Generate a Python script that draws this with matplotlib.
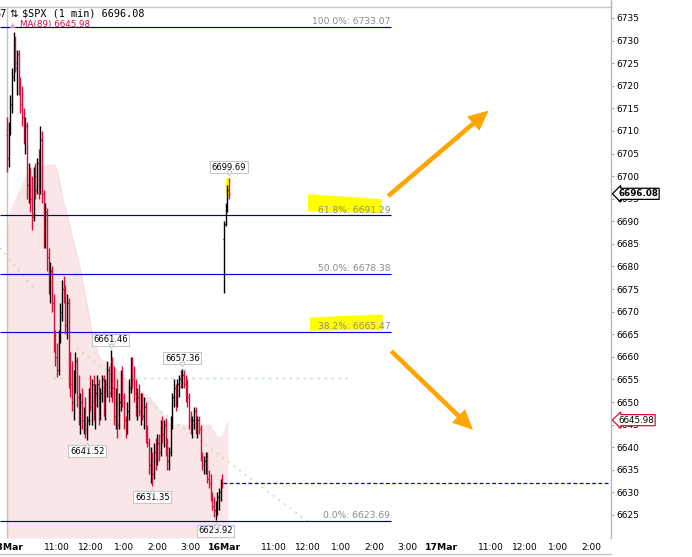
import matplotlib
matplotlib.use("Agg")
import matplotlib.pyplot as plt
import matplotlib.transforms as mtrans
from matplotlib.patches import FancyArrowPatch, Rectangle, Polygon
from matplotlib.lines import Line2D
import numpy as np

# ---------------- data ----------------
bar_interval = 3  # minutes per bar
day_minutes = 390
# 13Mar bars (index 0..129), then 16Mar bars
bar_opens = [
    6709, 6704, 6711, 6716, 6722, 6729, 6724, 6727, 6719, 6716,
    6713, 6709, 6711, 6698, 6701, 6695, 6691, 6700, 6697, 6703,
    6697, 6708, 6696, 6688, 6692, 6682, 6676, 6679, 6672, 6664,
    6660, 6657, 6665, 6670, 6675, 6673, 6667, 6672, 6656, 6654,
    6650, 6655, 6659, 6651, 6647, 6650, 6646, 6648, 6644, 6646,
    6651, 6649, 6654, 6648, 6652, 6654, 6647, 6652, 6655, 6649,
    6654, 6657, 6652, 6659, 6653, 6647, 6651, 6645, 6650, 6655,
    6651, 6646, 6645, 6648, 6653, 6659, 6655, 6652, 6649, 6651,
    6648, 6650, 6647, 6649, 6643, 6641, 6636, 6638, 6634, 6639,
    6637, 6641, 6639, 6645, 6643, 6645, 6640, 6637, 6639, 6646,
    6651, 6653, 6650, 6654, 6655, 6654, 6656, 6654, 6652, 6651,
    6646, 6645, 6646, 6648, 6644, 6646, 6644, 6638, 6636, 6637,
    6638, 6633, 6632, 6629, 6627, 6626, 6627, 6629, 6630, 6633,
    6686, 6689.5, 6693, 6697]
bar_highs = [
    6713, 6712, 6718, 6724, 6732, 6731, 6728, 6728, 6722, 6720,
    6715, 6713, 6712, 6703, 6702, 6700, 6702, 6703, 6704, 6706,
    6711, 6710, 6697, 6694, 6693, 6684, 6681, 6680, 6674, 6666,
    6663, 6666, 6672, 6677, 6678, 6676, 6674, 6673, 6661, 6659,
    6657, 6661, 6660, 6656, 6652, 6653, 6649, 6651, 6647, 6653,
    6656, 6655, 6656, 6654, 6656, 6655, 6653, 6656, 6656, 6655,
    6659, 6658, 6661.46, 6660, 6658, 6653, 6655, 6652, 6657, 6658,
    6652, 6647, 6650, 6655, 6660, 6660, 6658, 6655, 6653, 6654,
    6652, 6652, 6651, 6650, 6645, 6642, 6640, 6639, 6641, 6642,
    6643, 6643, 6646, 6647, 6646, 6646.5, 6642, 6640, 6647, 6652,
    6655, 6654, 6655, 6656, 6657, 6657.36, 6657, 6656, 6655, 6652,
    6648, 6647, 6649, 6649, 6647, 6647, 6645, 6639, 6638, 6639,
    6639, 6635, 6634, 6630, 6629, 6628, 6630, 6631, 6633, 6634,
    6690, 6694, 6698, 6699.69]
bar_lows = [
    6701, 6702, 6709, 6714, 6721, 6723, 6718, 6718, 6714, 6711,
    6707, 6705, 6695, 6694, 6692, 6688, 6690, 6695, 6696, 6695,
    6696, 6694, 6684, 6684, 6679, 6674, 6672, 6670, 6661, 6658,
    6655.5, 6656, 6663, 6668, 6672, 6665, 6664, 6653, 6651, 6648,
    6646, 6652, 6649, 6645, 6643, 6644, 6643, 6642, 6641.52, 6645,
    6648, 6645, 6646, 6644, 6649, 6645, 6646, 6650, 6647, 6646,
    6651, 6650, 6651, 6650, 6645, 6644, 6642, 6644, 6648, 6649,
    6644, 6642, 6643, 6646, 6652, 6653, 6650, 6647, 6646, 6647,
    6645, 6646, 6644, 6641, 6640, 6634, 6632, 6631.35, 6633, 6635,
    6636, 6637, 6638, 6641, 6640, 6638, 6635, 6635, 6638, 6644,
    6649, 6648, 6649, 6651, 6653, 6653, 6653, 6650, 6649, 6644,
    6643, 6642, 6644, 6643, 6642, 6643, 6637, 6635, 6634, 6634,
    6632, 6631, 6628, 6626, 6624.5, 6623.92, 6625, 6626, 6628, 6631,
    6674.1, 6689, 6692, 6695]
bar_closes = [
    6704, 6711, 6716, 6722, 6729, 6725, 6727, 6719, 6716, 6713,
    6709, 6711, 6698, 6701, 6695, 6691, 6700, 6697, 6703, 6697,
    6708, 6696, 6688, 6692, 6682, 6676, 6679, 6672, 6664, 6660,
    6657, 6665, 6670, 6675, 6673, 6667, 6672, 6656, 6654, 6650,
    6655, 6659, 6651, 6647, 6650, 6646, 6648, 6644, 6646, 6651,
    6649, 6654, 6648, 6652, 6654, 6647, 6652, 6655, 6649, 6654,
    6657, 6652, 6659, 6653, 6647, 6651, 6645, 6650, 6655, 6651,
    6646, 6645, 6648, 6653, 6659, 6655, 6652, 6649, 6651, 6648,
    6650, 6647, 6649, 6643, 6641, 6636, 6638, 6634, 6639, 6637,
    6641, 6639, 6645, 6643, 6645, 6640, 6637, 6639, 6646, 6651,
    6653, 6650, 6654, 6655, 6654, 6656, 6654, 6652, 6651, 6646,
    6645, 6646, 6648, 6644, 6646, 6644, 6638, 6636, 6637, 6638,
    6633, 6632, 6629, 6627, 6626, 6627, 6629, 6630, 6632, 6632,
    6689.5, 6693, 6697, 6696.08]
bars_day1 = 130

# MA(89) envelope (minutes since 13Mar open, value)
ma_minutes = [0, 5.4, 23.4, 32.4, 41.3, 50.3, 86.3, 91.7, 100.6, 109.6,
              118.6, 131.2, 145.6, 154.6, 167.1, 185.1, 226.5, 257, 284,
              293, 365, 377.4, 386.4, 397.2]
ma_values = [6686.3, 6691.8, 6696.9, 6699.1, 6700.9, 6702.0, 6702.5, 6700.7,
             6694.7, 6691.0, 6685.9, 6679.9, 6670.4, 6664.4, 6659.5, 6658.6,
             6653.3, 6650.9, 6646.5, 6644.9, 6644.9, 6642.3, 6642.0, 6645.6]

# Fibonacci retracement levels
fib_pcts = ["100.0%", "61.8%", "50.0%", "38.2%", "0.0%"]
fib_values = [6733.07, 6691.29, 6678.38, 6665.47, 6623.69]
fib_colors = ["#000088", "#000088", "#0000ff", "#0000ff", "#000088"]

last_price = 6696.08
ma_last = 6645.98
prev_close = 6632.0
green_level = 6655.3

high_label_bars = [62, 105, 133]
low_label_bars = [48, 87, 125]

x_tick_minutes = [0, 90, 150, 210, 270, 330, 390, 480, 540, 600, 660, 720,
                  780, 870, 930, 990, 1050]
x_tick_labels = ["13Mar", "11:00", "12:00", "1:00", "2:00", "3:00", "16Mar",
                 "11:00", "12:00", "1:00", "2:00", "3:00", "17Mar", "11:00",
                 "12:00", "1:00", "2:00"]
y_ticks = list(range(6625, 6740, 5))

# ---------------- figure ----------------
W, H = 692, 557
fig = plt.figure(figsize=(W / 100, H / 100), dpi=100)
ax = fig.add_axes([0, 1 - 538 / H, 611 / W, (538 - 7) / H])
XMIN, XMAX = -12.6, 1085.5
YMIN, YMAX = 6619.9, 6737.43
ax.set_xlim(XMIN, XMAX)
ax.set_ylim(YMIN, YMAX)

RED = "#d4103c"

# MA fill
ax.fill_between(ma_minutes, ma_values, YMIN, color="#fae6e6", lw=0, zorder=1)
ax.plot(ma_minutes, ma_values, color="#f4d6d6", lw=0.5, zorder=1.1)

# day separator at the left
ax.axvline(0, color="#c4c4c4", lw=1.0, zorder=1.2)

# green dotted trend lines
gcol = "#c2e2c2"
ax.plot([-12.6, 47.3], [6684.1, 6675.3], color=gcol, lw=1.2, ls=(0, (1.2, 3)), zorder=1.5)
ax.plot([125.3, 544.6], [6661.9, 6623.2], color=gcol, lw=1.2, ls=(0, (1.2, 3)), zorder=1.5)
ax.hlines(green_level, 82, 615, colors=gcol, lw=1.0, linestyles=(0, (2, 3)), zorder=1.5)

# yellow highlights
yel = "#ffff00"
ax.add_patch(Polygon([(541, 6696.0), (674, 6694.9), (674, 6691.9), (541, 6692.2)],
                     closed=True, fc=yel, ec="none", zorder=2.2))
ax.add_patch(Polygon([(544.6, 6668.7), (675.2, 6669.4), (675.2, 6665.9), (544.6, 6665.8)],
                     closed=True, fc=yel, ec="none", zorder=2.2))
ax.add_patch(Rectangle((393, 6695.6), 7, 3.9, fc=yel, ec="none", zorder=2.2))

# Fibonacci lines + labels
ax.hlines(fib_values, XMIN, 691, colors=fib_colors, lw=0.85, zorder=2)
for pct, val in zip(fib_pcts, fib_values):
    ax.annotate(f"{pct}: {val:.2f}", xy=(690, val), xytext=(-0.5, 2.0),
                textcoords="offset points", ha="right", va="baseline",
                fontsize=6.6, color="#8a8a8a", zorder=3)

# previous close dashed line
ax.hlines(prev_close, 388, XMAX, colors="#0000cc", lw=0.9,
          linestyles=(0, (3, 2)), zorder=2)

# OHLC bars
n = len(bar_closes)
times = np.array([i * bar_interval if i < bars_day1 else day_minutes + (i - bars_day1) * bar_interval
                  for i in range(n)], dtype=float)
o = np.array(bar_opens, float)
h = np.array(bar_highs, float)
l = np.array(bar_lows, float)
c = np.array(bar_closes, float)
cols = np.where(c >= o, "#000000", RED)
tick = 1.6
ax.vlines(times, l, h, colors=cols, lw=1.0, zorder=4)
ax.hlines(o, times - tick, times, colors=cols, lw=0.9, zorder=4)
ax.hlines(c, times, times + tick, colors=cols, lw=0.9, zorder=4)

# high / low value labels
box = dict(boxstyle="square,pad=0.18", fc="white", ec="#c6c6c6", lw=0.8)
for i in high_label_bars:
    ax.annotate(f"{h[i]:.2f}", xy=(times[i], h[i]), xytext=(0, 7.5),
                textcoords="offset points", ha="center", va="center",
                fontsize=6, color="black", bbox=box, zorder=6)
    ax.plot([times[i]], [h[i]], marker="v", ms=3.5, mfc="white", mec="#c6c6c6", mew=0.7,
            transform=mtrans.offset_copy(ax.transData, fig, x=0, y=3.2, units="points"),
            zorder=6.5, clip_on=False)
for i in low_label_bars:
    ax.annotate(f"{l[i]:.2f}", xy=(times[i], l[i]), xytext=(0, -8),
                textcoords="offset points", ha="center", va="center",
                fontsize=6, color="black", bbox=box, zorder=6)
    ax.plot([times[i]], [l[i]], marker="^", ms=3.5, mfc="white", mec="#c6c6c6", mew=0.7,
            transform=mtrans.offset_copy(ax.transData, fig, x=0, y=-3.6, units="points"),
            zorder=6.5, clip_on=False)

# orange arrows
astyle = "simple,tail_width=0.33,head_width=1.35,head_length=1.45"
ax.add_patch(FancyArrowPatch((681.2, 6695.2), (869.3, 6714.9), arrowstyle=astyle,
                             mutation_scale=10, fc="#ffa500", ec="none", zorder=5))
ax.add_patch(FancyArrowPatch((687.1, 6661.7), (841.1, 6643.4), arrowstyle=astyle,
                             mutation_scale=10, fc="#ffa500", ec="none", zorder=5))

# axes styling
for s in ["left", "bottom"]:
    ax.spines[s].set_visible(False)
ax.spines["top"].set_color("#c4c4c4")
ax.spines["right"].set_color("#b8b8b8")
ax.spines["top"].set_linewidth(1.0)
ax.spines["right"].set_linewidth(1.0)
ax.yaxis.tick_right()
ax.set_yticks(y_ticks)
ax.set_yticklabels([str(v) for v in y_ticks])
ax.tick_params(axis="y", which="both", labelsize=6.5, length=2.5, width=0.7,
               color="#a0a0a0", pad=1.5, labelcolor="black")
ax.set_xticks(x_tick_minutes)
ax.set_xticklabels(x_tick_labels)
ax.tick_params(axis="x", length=0, pad=3.5, labelsize=6.5, labelcolor="black")
for lab in ax.get_xticklabels():
    if "Mar" in lab.get_text():
        lab.set_fontweight("bold")
        lab.set_fontsize(6.7)

# right-side price tags
btrans = mtrans.blended_transform_factory(ax.transAxes, ax.transData)
ax.annotate(f"{last_price:.2f}", xy=(1, last_price), xycoords=btrans,
            xytext=(5.2, 0), textcoords="offset points", ha="left", va="center",
            fontsize=6.3, fontweight="bold", color="black",
            bbox=dict(boxstyle="larrow,pad=0.12", fc="white", ec="black", lw=0.9),
            zorder=7, annotation_clip=False)
ax.annotate(f"{ma_last:.2f}", xy=(1, ma_last), xycoords=btrans,
            xytext=(5.2, 0), textcoords="offset points", ha="left", va="center",
            fontsize=6.3, color="black",
            bbox=dict(boxstyle="larrow,pad=0.12", fc="white", ec=RED, lw=0.9),
            zorder=7, annotation_clip=False)

# frame lines outside axes
fig.add_artist(Line2D([611 / W, 611 / W], [1 - 7 / H, 1], color="#b8b8b8", lw=1.0))
fig.add_artist(Line2D([0, 611 / W], [1 - 554 / H, 1 - 554 / H], color="#c4c4c4", lw=1.0))

# header texts
fig.text(7 / W, 1 - 14 / H, "67", ha="right", va="center", fontsize=7.3,
         family="DejaVu Sans Mono", color="black")
fig.text(9.5 / W, 1 - 14 / H, "⇅", ha="left", va="center", fontsize=7.5,
         family="DejaVu Sans", color="black")
fig.text(21.5 / W, 1 - 14 / H, "$SPX (1 min) 6696.08", ha="left", va="center",
         fontsize=7.3, family="DejaVu Sans Mono", color="black")
fig.text(10 / W, 1 - 25 / H, "▲", ha="left", va="center", fontsize=5,
         color="#f2a8b4")
fig.text(19.5 / W, 1 - 25 / H, "MA(89) 6645.98", ha="left", va="center",
         fontsize=6.3, color=RED)

fig.savefig("out.png", dpi=100)
